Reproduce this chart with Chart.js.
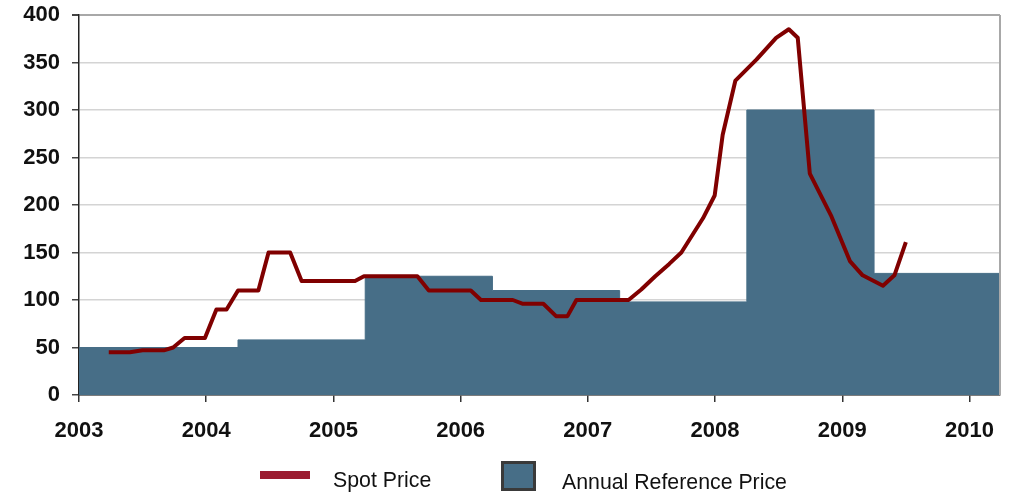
<!DOCTYPE html>
<html><head><meta charset="utf-8">
<script src="https://cdn.jsdelivr.net/npm/chart.js@4.4.0/dist/chart.umd.min.js"></script>
<style>
html,body{margin:0;padding:0;background:#fff;}
#wrap{position:relative;width:1021px;height:496px;overflow:hidden;}
canvas{position:absolute;left:0;top:0;}
.lg{position:absolute;font-family:'Liberation Sans',Arial,sans-serif;font-size:21.3px;line-height:21.3px;color:#111;white-space:nowrap;}
</style></head><body>
<div id="wrap"><canvas id="c" width="1021" height="496"></canvas>
<div style="position:absolute;left:260px;top:471px;width:50px;height:8px;background:#9b1b30"></div>
<span class="lg" style="left:333px;top:470px">Spot Price</span>
<div style="position:absolute;left:501px;top:461px;width:29px;height:24px;border:3px solid #3a3a3a;background:#476e87"></div>
<span class="lg" style="left:562px;top:472px">Annual Reference Price</span>
</div>
<script>
const spotDates = [2003.234, 2003.40, 2003.50, 2003.667, 2003.74, 2003.83, 2003.99, 2004.08, 2004.16, 2004.25,
  2004.41, 2004.49, 2004.66, 2004.75, 2005.17, 2005.24, 2005.66, 2005.75, 2006.08, 2006.16,
  2006.41, 2006.49, 2006.65, 2006.75, 2006.84, 2006.91, 2007.32, 2007.42, 2007.53, 2007.64,
  2007.735, 2007.905, 2007.997, 2008.06, 2008.16, 2008.325, 2008.48, 2008.58, 2008.65, 2008.745,
  2008.915, 2009.06, 2009.16, 2009.32, 2009.41, 2009.50];
const spotPrices = [45, 45, 47, 47, 50, 60, 60, 90, 90, 110,
  110, 150, 150, 120, 120, 125, 125, 110, 110, 100,
  100, 96, 96, 83, 83, 100, 100, 111, 125, 138,
  150, 186, 210, 274, 331, 353, 376, 385, 376, 233,
  188, 141, 126, 115, 126, 161];
const refPeriodStarts = [2003, 2004.25, 2005.25, 2006.25, 2007.25, 2008.25, 2009.25];
const refPrices = [50, 58, 125, 110, 98, 300, 128];
const yearTicks = [2003, 2004, 2005, 2006, 2007, 2008, 2009, 2010];
const priceTicks = [0, 50, 100, 150, 200, 250, 300, 350, 400];
const X_MIN = 2003, X_MAX = 2010.24;

const spotData = spotDates.map((d, i) => ({x: d, y: spotPrices[i]}));
const refData = refPeriodStarts.map((d, i) => ({x: d, y: refPrices[i]}));
refData.push({x: X_MAX, y: refPrices[refPrices.length - 1]});

const tickFont = {family: "'Liberation Sans', Arial, sans-serif", size: 22, weight: 'bold'};

const frame = {
  id: 'frame',
  afterDraw(chart) {
    const {ctx, chartArea: a} = chart;
    ctx.save();
    ctx.strokeStyle = '#a8a8a8';
    ctx.lineWidth = 2;
    ctx.beginPath();
    ctx.moveTo(a.right, a.top);
    ctx.lineTo(a.right, a.bottom);
    ctx.stroke();
    ctx.restore();
  }
};

new Chart(document.getElementById('c'), {
  type: 'line',
  data: {
    datasets: [
      {label: 'Spot Price', data: spotData, borderColor: '#800000', borderWidth: 4,
       pointRadius: 0, fill: false, tension: 0, borderJoinStyle: 'round', order: 0},
      {label: 'Annual Reference Price', data: refData, stepped: true, fill: 'origin',
       backgroundColor: '#476e87', borderColor: '#476e87', borderWidth: 1, pointRadius: 0, order: 1}
    ]
  },
  options: {
    responsive: false,
    animation: false,
    devicePixelRatio: 1,
    layout: {padding: {left: 0, top: 15, right: 21, bottom: 0}},
    plugins: {legend: {display: false}, tooltip: {enabled: false}},
    scales: {
      x: {
        type: 'linear', min: X_MIN, max: X_MAX,
        afterFit(s) { s.height = 101; s.paddingLeft = 0; s.paddingRight = 0; },
        afterBuildTicks(s) { s.ticks = yearTicks.map(v => ({value: v})); },
        grid: {drawOnChartArea: false, tickColor: '#333', tickLength: 7, lineWidth: 1.5},
        border: {color: '#111', width: 1.5},
        ticks: {padding: 16, color: '#111', font: tickFont, maxRotation: 0, autoSkip: false,
                callback: v => String(v)}
      },
      y: {
        min: 0, max: 400,
        afterFit(s) { s.width = 79; s.paddingTop = 0; s.paddingBottom = 0; },
        afterBuildTicks(s) { s.ticks = priceTicks.map(v => ({value: v})); },
        grid: {
          color: c => (c.tick && c.tick.value === 400) ? '#a8a8a8' : '#d4d4d4',
          lineWidth: c => (c.tick && c.tick.value === 400) ? 2 : 1.5,
          tickColor: '#444', tickLength: 7
        },
        border: {color: '#222', width: 1.5},
        ticks: {padding: 12, color: '#111', font: tickFont}
      }
    }
  },
  plugins: [frame]
});
</script>
</body></html>
